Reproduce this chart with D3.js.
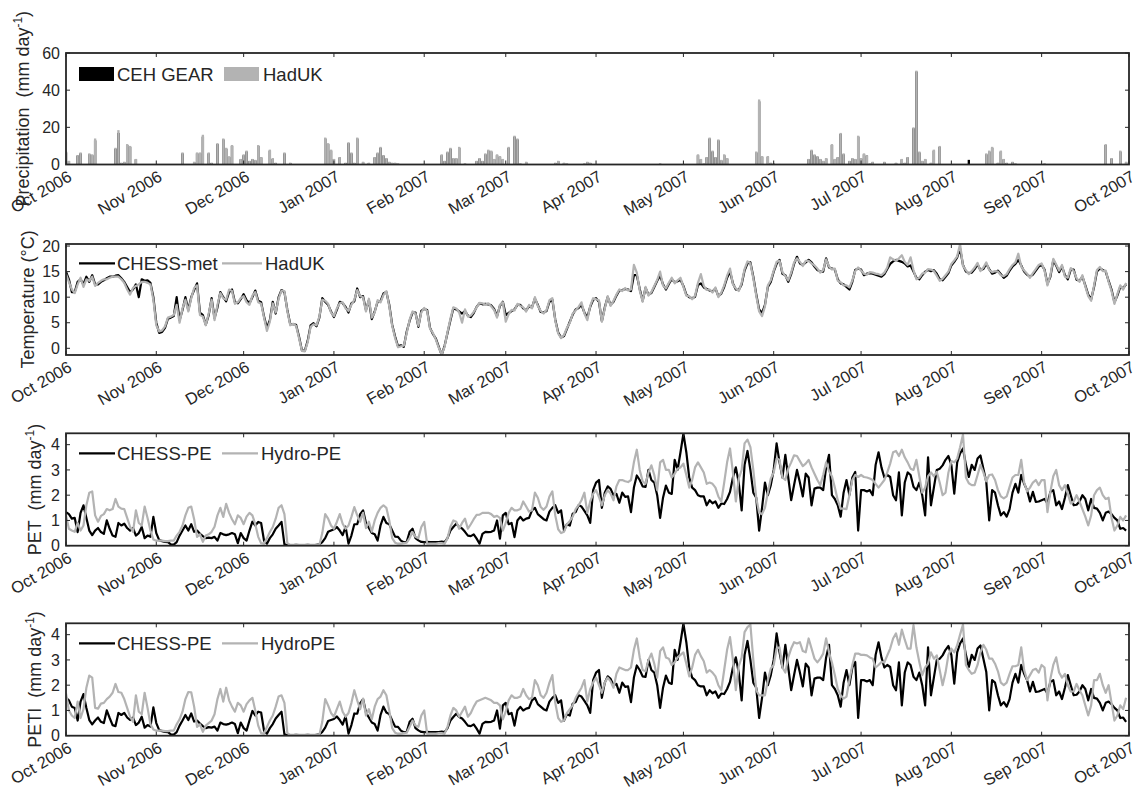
<!DOCTYPE html>
<html><head><meta charset="utf-8">
<script src="https://cdn.jsdelivr.net/npm/d3@7"></script>
<style>
body{margin:0;background:#fff}
svg{font-family:Arial,"Liberation Sans",Helvetica,sans-serif}
</style></head>
<body><svg id="chart" width="1139" height="796"></svg>
<script>
// ---------- data ----------
const monthLabels = ["Oct 2006","Nov 2006","Dec 2006","Jan 2007","Feb 2007","Mar 2007","Apr 2007","May 2007","Jun 2007","Jul 2007","Aug 2007","Sep 2007","Oct 2007"];
const startYear = 2006, startMonth = 9; // day index 0 = 1 Oct 2006

// Precipitation (mm/day): day index of each rain day, and the two products
const rainDays = [0,1,4,5,8,9,10,17,18,19,20,21,22,24,40,44,45,46,47,49,50,52,54,55,56,57,60,61,62,63,64,65,66,67,70,71,72,75,77,89,90,91,92,94,96,97,98,99,100,102,104,106,107,108,109,110,111,112,113,114,129,130,131,132,133,134,135,137,141,142,143,144,145,146,147,148,149,150,152,154,155,156,158,168,169,171,172,178,179,180,204,217,218,219,220,221,222,223,224,225,226,227,232,237,238,239,241,242,243,245,255,256,257,258,259,260,261,263,264,265,266,267,269,270,271,272,273,274,275,276,277,281,285,287,288,289,291,292,293,294,295,297,298,300,305,310,316,317,318,320,321,322,323,325,326,336,355,357,359,362,364];
const rainHadUK = [7,2,5,6.5,6,5.5,14,9,18.5,1,1.5,11,10,3,6.5,1.5,6.5,6.5,16,6.5,1,11.5,14,9,4.5,10.5,3,5.5,7.5,2,3,2.5,10.5,4,8,3.5,1,6.5,1,14.5,11.5,8,3,4,1,12,6.5,1,14.5,1.5,1,4,6.5,9.5,5,3.5,1.5,1,1,0.5,5.5,2,7,9,3.5,3.5,9.5,0.5,2,3.5,2,6,8,7.5,3,5.5,4.5,3,9.5,15.5,14,0.5,1.5,1,2,1,0.5,0.5,1.5,1,0.5,5.5,3,0.5,4,14.5,7.5,4,13.5,2.5,5.5,3.5,0.2,7,35,4.5,4.5,1,0.5,0.3,3,8,5.5,4.5,3,2,3.5,11,3,4,17,6,2,3.5,3,15.5,3.5,6,5,0.5,1.5,1.5,1,3,1,4,20,50.5,7,2,3,1,8,10,0.3,0,6,7.5,9.5,1,7.5,3,1,1.5,0.5,0.5,0.3,11,3.5,7.5,1.5];
const rainCEH = [6.5,1.8,4.8,6,5.5,5,13,8.5,17,0.8,1.2,10.5,9.5,2.8,6,1.2,6,6,15,6,0.8,11,13.5,8.5,4,10,2.8,5,7,1.8,2.8,2.2,10,3.8,7.5,3,0.8,6,0.8,14,11,7.5,2.8,3.8,0.8,11.5,6,0.8,14,1.2,0.8,3.8,6,9,4.8,3.2,1.2,0.8,0.8,0.4,5,1.8,6.5,8.5,3.2,3.2,9,0.4,1.8,3.2,1.8,5.5,7.5,7,2.8,5,4.2,2.8,9,15,13.5,0.4,1.2,0.8,1.8,0.8,0.4,0.4,1.2,0.8,0.4,5,2.8,0.4,3.8,14,7,3.8,13,2.2,5,3.2,0.1,6.5,34,4.2,4.2,0.8,0.4,0.2,2.8,7.5,5,4.2,2.8,1.8,3.2,10.5,2.8,3.8,16.5,5.5,1.8,3.2,2.8,15,3.2,5.5,4.8,0.4,1.2,1.2,0.8,2.8,0.8,3.8,19.5,50,6.5,1.8,2.8,0.8,7.5,9.5,0.2,2.5,5.5,7,9,0.8,7,2.8,0.8,1.2,0.4,0.4,0.2,10.5,3.2,7,1.2];

// Temperature (deg C), daily, 1 Oct 2006 - 30 Sep 2007
const tempCHESS = [
15,13.5,11,11,13,13.5,12.5,14,13,14.3, 12.5,12.5,13,13.3,13.7,14,14,14.2,14.3,13.7,
13,12,11,11.5,12.5,10,13.5,13.2,13.3,12.8, 10,5,3,3.2,4,5.8,6,6.3,10,5.5,
7.5,10,7.5,10,11.4,12.7,7,6.5,4.6,6.5, 9.8,5.9,8,11,10,9.2,11,11.5,9,8.8,
9.6,10.6,9.4,8.8,10,11.3,9.3,9,6.2,4, 5.5,9.1,6.8,10,11.4,11,7.5,4.7,4.7,4.6,
2.3,-0.4,-0.5,1.5,4.5,4.9,4.3,6,9.8,9.1, 8.5,7.2,6.1,7.5,9.1,8.8,8.1,7,8.8,9.2,
11.7,10,10.2,7.5,9.4,5.7,7.2,9.1,9.2,10.7, 11,8.5,4.6,2.3,0.4,0.6,0.3,3.3,5.4,7,
7,4.2,7.3,7.7,7.5,4,2.8,1.9,0.3,-1.3, 0.5,3,5.5,7.8,7.6,7.2,6.8,7.3,6.4,6.1,
6.9,8.1,8.8,8.6,8.7,8.6,8.4,7.7,6.3,8.3, 9.1,6.5,6.9,7.3,7.6,8.5,8.5,7.8,7.4,8.2,
8,9.7,8.5,7.1,7,7.3,9.1,9.5,5.6,3.1, 2.1,2.4,3.8,5.2,6.6,7.6,7.9,8.5,7,6,
8.1,9.5,9.8,9.1,5.3,8,10,8.5,9.1,10.3, 11.3,11.4,11.6,11.5,11.2,14.3,14.3,11.6,9.3,11.8,
10.5,10.8,12,13.2,14.2,12.5,11.5,12.6,13.5,12.9, 13.1,13.4,12.2,10.5,10,9.8,10.1,12.4,12.7,11.9,
11.6,11.3,11.1,11.7,10.2,10.7,12,13.8,15,12.7, 11.5,11.4,12.5,15.2,16.6,16.8,14,10.6,7.6,6.9,
8.5,12,13,15,16.5,17.3,14.6,14.3,13,14.5, 16.5,17.9,16.6,16.3,16.8,17.3,16.8,16,15.3,15,
15,17.6,15.8,15.6,15.4,13.5,12.7,12.5,12,11.5, 13,15.3,15.6,15.4,14.3,14.6,14.7,14.6,14.4,14.2,
14,14.5,15.5,16.5,17,17.3,17.1,16.9,16.6,16, 16.2,15,13.8,13.5,14.3,15,15.3,15.1,15.3,14.6,
13.5,13.3,14,14.7,16.2,16.9,17.8,19.5,16.3,15, 14.7,14.8,15.5,16.4,15.3,15.5,16.5,15.5,14.6,14.8,
15.2,14.5,13.8,14.2,15.2,16,16.5,17.3,16.2,15, 14.4,14,14.4,15.2,16,16.3,15.4,12.6,14,17.2,
16.2,14.9,16,14.3,13.5,15.4,15.4,13.4,13.2,14, 12.3,10.5,9.6,12,15,15.6,15.3,15,13.2,11.5,
9,10.3,12,11.8,12.5];
const tempHadUK = [
14.5,13,11.5,10.8,12.5,13.8,12,13.5,13.2,14, 12.2,12.8,13.2,13.5,13.5,13.8,14,14,14,13.5,
12.8,11.5,10.5,11.8,12.2,12.5,13,13,12.8,12.5, 9.5,4.5,3.3,3.5,4.3,6,6.2,6.5,8.5,5,
7.8,9.5,7.2,9.8,11.8,12.3,6.5,6.2,4.5,6.8, 9.5,5.5,8.5,10.8,9.8,9.5,11.5,11.2,8.7,9,
9.8,10.2,9,8.5,10.3,11,9,8.7,6,3.4, 5.2,8.8,7,9.7,11.3,11.2,7.3,4.5,4.8,4.4,
2,-0.5,-0.6,1.2,4.2,4.7,4.5,6.2,9.5,9.3, 8.7,7,6.3,7.8,8.8,9,7.8,7.3,8.5,9.5,
11.4,10.2,10,7.2,9.7,6,7,9.4,9,10.4, 11.2,8.2,4.4,2,0.2,0.4,0.5,3,5.6,7.2,
6.8,4.4,7,7.9,7.3,3.8,3,1.7,0.1,-1.2, 0.3,3.2,5.8,8,7.8,7,5,7.6,6.2,6.4,
7.1,8,8.9,8.8,8.5,8.8,8.2,7.5,6,8.5, 9,5.2,6.7,7.5,7.4,8.7,8.3,8,7.2,8.5,
7.8,10,8.3,7.3,6.8,7.5,9.4,9.8,5.4,2.9, 2,2.6,4,5,6.8,7.4,8.1,9,6.8,5.5,
8.3,9.8,9.6,9.4,5.2,7.8,10.2,8.3,9.3,10.5, 11.5,11.2,11.8,11.3,11.5,16.3,14.8,11.3,9.1,12,
10.3,11,12.2,13.4,15,12.3,11.7,12.8,13.8,12.7, 13.3,13.8,12,10.3,10.2,9.6,10.3,12.8,14.5,12.2,
11.4,11.5,10.9,11.9,10,10.9,12.3,14.2,15.6,12.5, 11.7,11.2,12.8,15.5,17,16.6,13.7,10.3,7.2,6.3,
8.2,12.3,13.3,15.2,16.9,17.1,14.9,14.1,13.3,14.8, 16.8,17.6,16.9,16.1,17.1,17.1,16.6,16.2,15.6,14.8,
15.3,17.4,16,15.4,15.6,13.2,12.9,12.3,12.3,11.9, 13.3,15.1,15.8,15.2,14.6,14.4,14.9,14.8,14.6,14.5,
14.3,14.8,15.8,17.8,17.4,17.1,17.6,18.2,16.9,16.3, 17.8,15.3,13.5,13.8,14.6,14.8,15.5,15.4,15.1,14.2,
13.2,13.6,14.3,15,16.5,17.2,18,20.4,16.1,15.3, 14.5,15.1,15.8,16.7,15.1,15.8,16.8,15.3,14.9,15.1,
15,14.3,14.1,14.5,15.5,16.3,16.8,18.5,16,15.2, 14.6,13.8,14.7,15.5,16.3,16.6,15.2,12.3,14.3,17.5,
16.4,15.2,16.3,14,13.8,15.7,15.1,13.7,13,14.3, 12.1,10.2,9.3,12.3,15.3,15.9,15.1,15.2,13,11.2,
8.7,10.6,12.3,11.5,12.8];

// Potential evapotranspiration (mm/day)
const petCHESS = [
1.33,1.25,1.07,1.1,0.54,1.3,1.6,1.1,0.6,0.42, 0.6,0.7,0.54,0.47,1.0,0.67,0.4,0.35,0.9,0.8,
0.87,0.7,0.6,0.7,0.4,0.5,0.74,0.3,0.4,0.35, 1.14,0.5,0.22,0.18,0.15,0.14,0.05,0.04,0.14,0.4,
0.6,0.8,0.6,0.85,0.55,0.6,0.47,0.38,0.3,0.32, 0.3,0.35,0.2,0.5,0.45,0.42,0.45,0.5,0.45,0.1,
0.5,0.3,0.2,0.6,0.95,0.8,0.94,0.9,0.2,0.08, 0.3,0.45,0.67,0.8,0.94,0.05,0.02,0.01,0.02,0.03,
0.02,0.01,0.02,0.03,0.02,0.01,0.03,0.05,0.14,0.3, 0.55,0.6,0.65,0.74,0.6,0.42,0.75,0.08,0.4,0.85,
0.85,1.25,1.4,0.9,0.7,0.5,0.45,0.2,0.8,1.14, 0.9,0.85,0.6,0.36,0.35,0.2,0.14,0.15,0.55,0.67,
0.3,0.21,0.15,0.14,0.15,0.14,0.14,0.14,0.14,0.16, 0.14,0.3,0.6,0.74,0.87,0.74,0.68,0.55,0.4,0.38,
0.45,0.28,0.08,0.47,0.55,0.54,0.55,0.6,1.0,0.28, 1.2,1.3,0.85,0.9,0.34,1.0,1.14,1.0,1.07,1.1,
1.4,1.5,1.25,1.15,1.05,1.0,1.35,1.5,1.6,1.3, 1.4,0.6,0.85,0.8,1.27,1.33,1.6,1.55,1.38,1.2,
0.9,2.2,2.5,2.6,1.5,2.1,2.35,2.25,2.0,2.05, 1.7,2.1,1.93,1.95,1.33,2.3,2.78,2.6,2.35,2.33,
3.0,2.6,2.5,2.0,1.1,1.9,2.38,2.1,2.05,3.4, 3.0,3.7,4.44,3.7,2.7,2.3,2.2,2.0,1.95,1.95,
1.6,1.8,1.68,1.75,1.5,1.67,1.65,1.85,2.13,2.7, 3.1,2.5,1.4,3.2,3.75,3.0,2.1,1.9,0.6,1.5,
2.5,2.0,2.4,3.0,4.05,3.3,2.7,3.6,2.7,1.8, 2.4,3.0,2.5,1.95,2.85,2.7,1.6,2.26,2.3,2.3,
2.2,3.1,3.6,2.0,1.85,1.6,1.15,2.1,2.6,2.0, 2.7,2.92,0.6,2.2,2.2,2.15,2.2,2.0,3.2,3.7,
3.1,2.7,2.8,2.72,2.0,1.8,2.9,1.2,2.5,2.9, 2.8,2.33,2.2,2.5,2.0,1.2,3.5,1.6,2.3,3.0,
3.05,3.18,3.4,3.55,3.2,2.06,3.3,3.65,3.85,3.2, 2.72,3.2,3.0,3.45,3.57,3.05,2.52,1.0,2.2,2.1,
1.6,1.2,1.33,1.15,1.45,2.1,2.45,2.1,2.8,2.45, 2.2,1.75,2.13,1.73,1.75,1.8,1.85,1.67,2.13,2.2,
1.6,1.75,1.45,1.9,2.4,2.0,1.6,1.62,1.75,2.0, 1.85,1.4,1.85,1.5,1.47,1.3,1.0,1.3,1.35,1.25,
1.1,1.0,0.67,0.7,0.6];
const petHydro = [
1.2,0.67,0.6,0.55,0.9,0.6,0.8,1.6,2.1,2.15, 1.2,0.95,1.18,1.25,1.45,1.4,1.45,1.85,1.55,1.47,
1.45,1.1,0.75,0.55,1.4,0.9,0.8,1.55,1.1,0.6, 0.25,0.2,0.2,0.2,0.18,0.18,0.2,0.2,0.4,0.55,
0.8,1.2,1.5,1.55,1.05,0.35,0.45,0.15,0.4,0.45, 0.55,0.75,1.2,1.5,1.14,1.66,1.3,1.05,0.85,1.2,
1.1,0.85,1.15,1.3,1.2,0.85,0.35,0.1,0.08,0.3, 0.54,0.74,1.07,1.5,1.6,1.25,0.1,0.03,0.03,0.03,
0.03,0.03,0.03,0.03,0.03,0.03,0.03,0.03,0.5,1.25, 1.07,0.8,0.67,0.94,1.25,0.87,0.67,0.8,1.14,1.53,
1.2,0.95,1.3,0.7,0.95,0.55,1.0,1.3,1.5,1.6, 1.5,1.0,0.3,0.12,0.08,0.08,0.1,0.12,0.3,0.54,
0.35,0.3,0.74,0.94,0.08,0.08,0.08,0.08,0.1,0.1, 0.08,0.3,0.75,1.0,0.95,0.67,0.9,1.07,0.67,0.85,
1.05,1.22,1.23,1.3,1.3,1.3,1.25,1.14,1.18,1.1, 0.6,0.9,1.3,1.5,1.4,1.4,1.45,1.75,1.55,1.35,
1.4,2.1,1.9,1.53,1.42,1.55,1.95,2.15,1.2,0.65, 0.5,0.55,0.85,0.98,1.15,1.45,1.6,1.8,2.1,1.3,
1.75,2.05,2.2,1.93,1.6,2.0,2.2,2.06,1.8,2.35, 2.6,2.6,2.55,2.52,2.6,3.3,3.8,3.0,2.55,2.45,
2.9,3.18,2.8,2.2,3.3,3.4,3.0,3.0,2.7,2.85, 3.05,3.1,3.25,2.8,2.3,2.6,3.1,3.3,3.1,2.9,
2.45,2.5,2.45,2.3,1.95,1.75,2.5,3.3,3.85,2.9, 1.75,2.65,3.0,4.05,4.2,3.9,3.0,1.9,1.3,1.25,
1.5,2.1,2.66,2.9,3.45,3.4,2.7,2.6,3.05,3.3, 3.58,3.55,3.35,3.15,3.25,3.4,3.1,2.85,2.6,2.4,
2.8,3.3,2.95,2.75,2.3,1.8,1.47,1.47,1.45,2.0, 2.6,2.8,2.72,2.8,2.72,2.7,2.66,2.6,2.45,2.3,
2.45,2.6,2.9,3.25,3.7,3.75,3.55,3.8,3.5,3.3, 3.05,3.0,3.4,2.75,2.1,2.3,2.75,2.9,2.75,2.92,
2.5,2.0,2.1,2.9,3.35,3.3,3.45,3.9,4.4,2.7, 2.47,2.4,2.4,2.8,3.2,2.9,2.55,2.8,2.82,2.6,
2.2,1.95,1.87,1.95,2.33,2.7,2.8,2.8,3.4,2.5, 2.15,2.3,2.5,2.6,2.4,2.6,2.6,1.33,2.13,2.75,
3.0,2.4,2.2,2.4,2.05,1.67,1.75,2.0,1.75,1.45, 1.15,0.8,1.2,2.0,2.2,2.3,2.0,1.85,1.9,1.1,
0.6,0.8,1.14,1.0,1.2];

// PETI (mm/day)
const petiCHESS = [
1.5,1.4,1.15,1.1,0.6,1.35,1.65,1.1,0.62,0.45, 0.6,0.72,0.55,0.5,1.0,0.7,0.42,0.38,0.9,0.82,
0.9,0.72,0.62,0.72,0.42,0.52,0.75,0.32,0.42,0.36, 1.12,0.5,0.22,0.18,0.15,0.14,0.05,0.04,0.14,0.4,
0.6,0.82,0.62,0.88,0.56,0.6,0.48,0.38,0.3,0.34, 0.32,0.36,0.2,0.52,0.46,0.44,0.47,0.52,0.46,0.1,
0.52,0.3,0.2,0.6,0.98,0.8,0.95,0.92,0.2,0.08, 0.3,0.46,0.68,0.82,0.95,0.05,0.02,0.01,0.02,0.03,
0.02,0.01,0.02,0.03,0.02,0.01,0.03,0.05,0.15,0.32, 0.58,0.62,0.66,0.76,0.62,0.44,0.78,0.08,0.42,0.88,
0.87,1.28,1.45,0.92,0.72,0.52,0.46,0.2,0.82,1.15, 0.92,0.86,0.6,0.36,0.35,0.2,0.14,0.15,0.55,0.67,
0.3,0.21,0.15,0.14,0.15,0.14,0.14,0.14,0.14,0.16, 0.14,0.3,0.6,0.74,0.87,0.74,0.68,0.55,0.4,0.38,
0.45,0.28,0.08,0.47,0.55,0.54,0.55,0.6,1.0,0.28, 1.2,1.3,0.85,0.9,0.4,1.0,1.14,1.0,1.07,1.1,
1.4,1.5,1.25,1.15,1.05,1.0,1.35,1.5,1.6,1.3, 1.4,0.6,0.85,0.8,1.27,1.33,1.6,1.55,1.38,1.2,
0.9,2.2,2.5,2.6,1.5,2.1,2.35,2.25,2.0,2.05, 1.7,2.1,1.93,1.95,1.33,2.3,2.78,2.6,2.35,2.33,
3.0,2.6,2.5,2.0,1.1,1.9,2.38,2.1,2.05,3.4, 3.0,3.7,4.44,3.7,2.7,2.3,2.2,2.0,1.95,1.95,
1.6,1.8,1.68,1.75,1.5,1.67,1.65,1.85,2.13,2.7, 3.1,2.5,1.4,3.2,3.75,3.0,2.1,1.9,0.7,1.5,
2.5,2.0,2.4,3.0,4.05,3.3,2.7,3.6,2.7,1.8, 2.4,3.0,2.5,1.95,2.85,2.7,1.6,2.26,2.3,2.3,
2.2,3.1,3.6,2.0,1.85,1.6,1.15,2.1,2.6,2.0, 2.7,2.92,0.7,2.2,2.2,2.15,2.2,2.0,3.2,3.7,
3.1,2.7,2.8,2.72,2.0,1.8,2.9,1.2,2.5,2.9, 2.8,2.33,2.2,2.5,2.0,1.2,3.5,1.6,2.3,3.0,
3.05,3.18,3.4,3.55,3.2,2.06,3.3,3.65,3.85,3.2, 2.72,3.2,3.0,3.45,3.57,3.05,2.52,1.0,2.2,2.1,
1.6,1.2,1.33,1.15,1.45,2.1,2.45,2.1,2.8,2.45, 2.2,1.75,2.13,1.73,1.75,1.8,1.85,1.67,2.13,2.2,
1.6,1.75,1.45,1.9,2.4,2.0,1.6,1.62,1.75,2.0, 1.85,1.4,1.85,1.5,1.47,1.3,1.0,1.3,1.35,1.25,
1.1,1.0,0.7,0.72,0.55];
const petiHydro = [
1.67,1.0,0.8,0.7,1.35,0.7,1.05,1.9,2.38,2.3, 1.1,1.07,1.27,1.3,1.45,1.55,1.7,2.05,1.73,1.7,
1.45,1.1,0.75,0.55,1.6,0.95,0.85,1.7,1.1,0.45, 0.25,0.2,0.2,0.2,0.18,0.18,0.2,0.2,0.45,0.65,
0.95,1.45,1.73,1.72,1.15,0.35,0.45,0.15,0.4,0.5, 0.6,0.85,1.45,1.85,1.35,1.9,1.4,1.15,0.95,1.3,
1.2,0.95,1.25,1.4,1.5,1.0,0.4,0.1,0.08,0.35, 0.6,0.8,1.15,1.55,1.6,1.3,0.1,0.03,0.03,0.03,
0.03,0.03,0.03,0.03,0.03,0.03,0.03,0.03,0.55,1.45, 1.2,0.9,0.75,1.05,1.35,0.95,0.75,0.9,1.3,1.8,
1.4,1.05,1.47,0.8,1.05,0.65,1.15,1.45,1.55,1.8, 1.6,1.0,0.3,0.12,0.08,0.08,0.1,0.12,0.35,0.6,
0.4,0.35,0.8,1.0,0.08,0.08,0.08,0.08,0.1,0.1, 0.08,0.35,0.8,1.1,1.0,0.75,0.95,1.15,0.75,0.9,
1.15,1.35,1.4,1.45,1.5,1.45,1.4,1.3,1.3,1.2, 0.65,0.95,1.4,1.6,1.5,1.5,1.55,1.85,1.6,1.45,
1.5,2.2,2.0,1.6,1.5,1.7,2.1,2.4,1.3,0.7, 0.55,0.6,0.9,1.05,1.2,1.5,1.7,1.9,2.2,1.35,
1.85,2.1,2.3,2.0,1.7,2.1,2.3,2.15,1.9,2.45, 2.7,2.65,2.6,2.6,2.7,3.4,3.85,3.1,2.6,2.55,
3.0,3.25,2.85,2.3,3.35,3.5,3.1,3.05,2.8,2.9, 3.1,3.2,3.3,2.85,2.35,2.7,3.2,3.4,3.15,2.95,
2.5,2.6,2.5,2.35,2.0,1.8,2.6,3.4,3.9,3.0, 1.8,2.75,3.1,4.1,4.3,4.4,3.0,1.8,1.6,1.6,
1.6,2.2,2.66,2.8,3.45,3.5,2.7,2.5,3.1,3.45, 3.7,3.65,3.7,3.35,3.3,3.85,3.45,3.05,2.9,3.05,
3.25,3.85,3.3,2.9,2.4,1.85,1.6,1.47,1.55,2.2, 2.8,3.25,3.25,3.2,3.2,3.18,3.1,3.05,2.7,2.8,
2.92,2.9,3.18,3.45,3.85,4.05,3.6,4.2,3.8,3.45, 3.45,4.38,3.5,2.92,2.4,2.7,2.85,3.3,3.05,3.18,
2.6,2.0,2.5,3.2,3.45,3.3,3.58,4.0,4.4,2.8, 2.6,2.45,2.5,2.8,3.3,3.6,3.4,3.05,3.05,2.85,
2.55,2.1,2.0,2.1,2.45,2.75,2.75,2.8,3.5,2.6, 2.2,2.4,2.6,2.65,2.5,2.8,2.7,1.4,2.25,2.8,
3.1,2.5,2.3,2.45,2.0,1.75,1.75,2.05,1.8,1.6, 1.2,0.8,1.2,2.2,2.2,2.45,2.0,1.7,2.0,1.3,
0.6,0.8,1.2,1.05,1.5];

// ---------- drawing ----------
const svg = d3.select("#chart");
const ink = "#262626", grey = "#b3b3b3";
const dayDate = i => new Date(startYear, startMonth, 1 + i);
const x = d3.scaleTime()
  .domain([new Date(startYear, startMonth, 1), new Date(startYear + 1, startMonth, 1)])
  .range([66, 1129]);
const monthTicks = d3.timeMonth.range(x.domain()[0], d3.timeDay.offset(x.domain()[1], 1));

const panels = [
  {top: 53, bottom: 164.5, domain: [0, 60], ticks: [0, 20, 40, 60], labelX: 29, label: ["Precipitation  (mm day", "-1", ")"]},
  {top: 244, bottom: 355, domain: [-1.31, 20.4], ticks: [0, 5, 10, 15, 20], labelX: 34, label: ["Temperature (°C)"]},
  {top: 433.3, bottom: 545.7, domain: [0, 4.45], ticks: [0, 1, 2, 3, 4], labelX: 41, label: ["PET  (mm day", "-1", ")"]},
  {top: 623.3, bottom: 735.7, domain: [0, 4.45], ticks: [0, 1, 2, 3, 4], labelX: 41, label: ["PETI  (mm day", "-1", ")"]}
];

panels.forEach((p, k) => {
  const y = d3.scaleLinear().domain(p.domain).range([p.bottom, p.top]);
  p.y = y;
  const g = svg.append("g");
  const cid = "clip" + k;
  svg.append("clipPath").attr("id", cid).append("rect")
    .attr("x", 66).attr("y", p.top).attr("width", 1129 - 66).attr("height", p.bottom - p.top);
  p.g = g; p.plot = g.append("g").attr("clip-path", `url(#${cid})`);

  // x ticks (inward, bottom and top)
  monthTicks.forEach((d, i) => {
    const xx = x(d);
    g.append("line").attr("x1", xx).attr("x2", xx).attr("y1", p.bottom).attr("y2", p.bottom - 4).attr("stroke", ink).attr("stroke-width", 1);
    g.append("line").attr("x1", xx).attr("x2", xx).attr("y1", p.top).attr("y2", p.top + 4).attr("stroke", ink).attr("stroke-width", 1);
    g.append("text").attr("transform", `translate(${xx + 7},${p.bottom + 15.5}) rotate(-30)`)
      .attr("text-anchor", "end").attr("font-size", "16.5px").attr("fill", ink).text(monthLabels[i]);
  });
  // y ticks
  p.ticks.forEach(t => {
    const yy = y(t);
    g.append("line").attr("x1", 66).attr("x2", 70).attr("y1", yy).attr("y2", yy).attr("stroke", ink);
    g.append("line").attr("x1", 1129).attr("x2", 1125).attr("y1", yy).attr("y2", yy).attr("stroke", ink);
    g.append("text").attr("x", 60).attr("y", yy).attr("dy", "0.36em").attr("text-anchor", "end")
      .attr("font-size", "16px").attr("fill", ink).text(t);
  });
  // y label
  const lab = g.append("text").attr("transform", `translate(${p.labelX},${(p.top + p.bottom) / 2}) rotate(-90)`)
    .attr("text-anchor", "middle").attr("font-size", "18px").attr("fill", ink).style("white-space", "pre");
  lab.append("tspan").text(p.label[0]);
  if (p.label.length > 1) {
    lab.append("tspan").attr("dy", -7).attr("font-size", "12px").text(p.label[1]);
    lab.append("tspan").attr("dy", 7).text(p.label[2]);
  }
});

// Panel 1: bars
{
  const p = panels[0];
  const bw = (x(dayDate(1)) - x(dayDate(0))) * 0.8;
  p.plot.selectAll("rect.ceh").data(rainDays).join("rect")
    .attr("x", (d) => x(dayDate(d)) - bw / 2).attr("width", bw)
    .attr("y", (d, i) => p.y(rainCEH[i])).attr("height", (d, i) => p.y(0) - p.y(rainCEH[i]))
    .attr("fill", "#000");
  p.plot.selectAll("rect.had").data(rainDays).join("rect").attr("class", "had")
    .attr("x", (d) => x(dayDate(d)) - bw / 2).attr("width", bw)
    .attr("y", (d, i) => p.y(rainHadUK[i])).attr("height", (d, i) => p.y(0) - p.y(rainHadUK[i]))
    .attr("fill", grey);
}

// line panels
const lineSeries = [
  [1, tempCHESS, tempHadUK, "CHESS-met", "HadUK", 263.3, 265],
  [2, petCHESS, petHydro, "CHESS-PE", "Hydro-PE", 453.3, 261],
  [3, petiCHESS, petiHydro, "CHESS-PE", "HydroPE", 643.3, 261]
];
lineSeries.forEach(([k, a, b]) => {
  const p = panels[k];
  const line = d3.line().x((d, i) => x(dayDate(i))).y(d => p.y(d));
  p.plot.append("path").attr("d", line(a)).attr("fill", "none").attr("stroke", "#000").attr("stroke-width", 2.2).attr("stroke-linejoin", "round");
  p.plot.append("path").attr("d", line(b)).attr("fill", "none").attr("stroke", grey).attr("stroke-width", 2.2).attr("stroke-linejoin", "round");
});

// axes boxes
panels.forEach(p => {
  p.g.append("rect").attr("x", 66).attr("y", p.top).attr("width", 1129 - 66).attr("height", p.bottom - p.top)
    .attr("fill", "none").attr("stroke", ink).attr("stroke-width", 1.8);
});

// legends
{
  const g = panels[0].g;
  g.append("rect").attr("x", 79).attr("y", 67).attr("width", 35).attr("height", 14).attr("fill", "#000");
  g.append("text").attr("x", 117).attr("y", 74).attr("dy", "0.36em").attr("font-size", "18.5px").attr("fill", ink).text("CEH GEAR");
  g.append("rect").attr("x", 224).attr("y", 67).attr("width", 35).attr("height", 14).attr("fill", grey);
  g.append("text").attr("x", 263).attr("y", 74).attr("dy", "0.36em").attr("font-size", "18.5px").attr("fill", ink).text("HadUK");
}
lineSeries.forEach(([k, a, b, n1, n2, ly, tx2]) => {
  const g = panels[k].g;
  g.append("line").attr("x1", 79).attr("x2", 115).attr("y1", ly).attr("y2", ly).attr("stroke", "#000").attr("stroke-width", 2.2);
  g.append("text").attr("x", 117).attr("y", ly).attr("dy", "0.36em").attr("font-size", "18.5px").attr("fill", ink).text(n1);
  g.append("line").attr("x1", 222).attr("x2", tx2 - 3).attr("y1", ly).attr("y2", ly).attr("stroke", grey).attr("stroke-width", 2.2);
  g.append("text").attr("x", tx2).attr("y", ly).attr("dy", "0.36em").attr("font-size", "18.5px").attr("fill", ink).text(n2);
});
</script>
</body></html>
